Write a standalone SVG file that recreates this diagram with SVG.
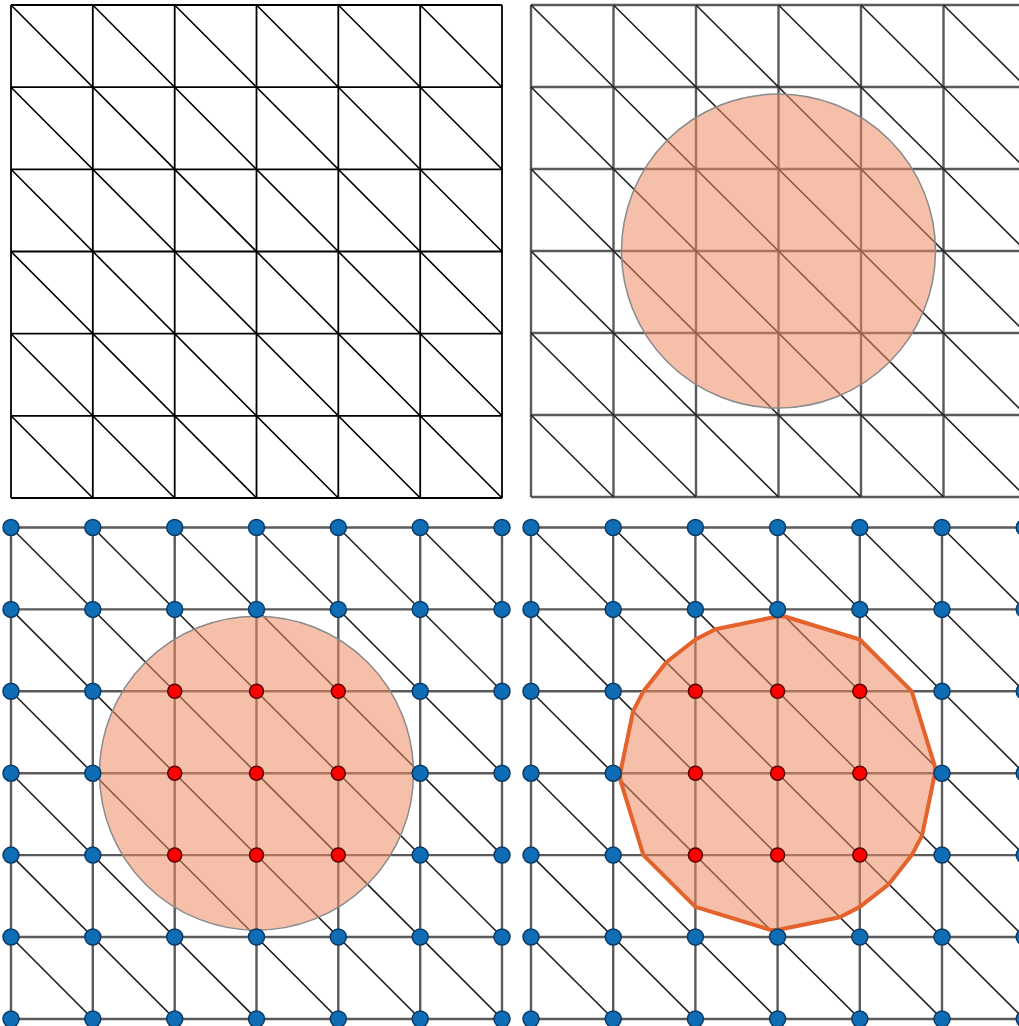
<svg xmlns="http://www.w3.org/2000/svg" width="1019" height="1026" viewBox="0 0 1019 1026">
<style>
.g1{stroke:#000;stroke-width:1.8;fill:none}
.d1{stroke:#000;stroke-width:1.6;fill:none}
.g{stroke:#5a5a5a;stroke-width:2.4;fill:none}
.d{stroke:#222;stroke-width:1.6;fill:none}
.disk{fill:#EF8A62;fill-opacity:0.55;stroke:#8a8a8a;stroke-width:1.5}
.poly{fill:#EF8A62;fill-opacity:0.55;stroke:#E4622C;stroke-width:4;stroke-linejoin:round}
.b{fill:#0F6DB5;stroke:#0B3A66;stroke-width:1.5}
.r{fill:#FF0000;stroke:#5a0000;stroke-width:1.5}
</style>
<rect width="1019" height="1026" fill="#fff"/>

<g id="panel1">
<path class="g1" d="M11 5H502M11 87.2H502M11 169.3H502M11 251.5H502M11 333.7H502M11 415.8H502M11 498H502M11 5V498M92.8 5V498M174.7 5V498M256.5 5V498M338.3 5V498M420.2 5V498M502 5V498"/>
<path class="d1" d="M11 5L502 498M11 87.2L420.2 498M11 169.3L338.3 498M11 251.5L256.5 498M11 333.7L174.7 498M11 415.8L92.8 498M92.8 5L502 415.8M174.7 5L502 333.7M256.5 5L502 251.5M338.3 5L502 169.3M420.2 5L502 87.2"/>
</g>

<g id="panel2">
<path class="g" d="M531 5H1026M531 87H1026M531 169H1026M531 251H1026M531 333H1026M531 415H1026M531 497H1026M531 5V497M613.5 5V497M696 5V497M778.5 5V497M861 5V497M943.5 5V497M1026 5V497"/>
<path class="d" d="M531 5L1026 497M531 87L943.5 497M531 169L861 497M531 251L778.5 497M531 333L696 497M531 415L613.5 497M613.5 5L1026 415M696 5L1026 333M778.5 5L1026 251M861 5L1026 169M943.5 5L1026 87"/>
<circle id="disk2" class="disk" cx="778.5" cy="251" r="157"/>
</g>

<g id="panel3">
<path class="g" d="M11 527.5H502M11 609.4H502M11 691.3H502M11 773.2H502M11 855.1H502M11 937H502M11 1019H502M11 527.5V1019M92.8 527.5V1019M174.7 527.5V1019M256.5 527.5V1019M338.3 527.5V1019M420.2 527.5V1019M502 527.5V1019"/>
<path class="d" d="M11 527.5L502 1019M11 609.4L420.2 1019M11 691.3L338.3 1019M11 773.2L256.5 1019M11 855.1L174.7 1019M11 937L92.8 1019M92.8 527.5L502 937M174.7 527.5L502 855.1M256.5 527.5L502 773.2M338.3 527.5L502 691.3M420.2 527.5L502 609.4"/>
<circle id="disk3" class="disk" cx="256.5" cy="773.2" r="157"/>
<g id="nodes3">
<circle class="b" r="8" cx="11" cy="527.5"/><circle class="b" r="8" cx="92.8" cy="527.5"/><circle class="b" r="8" cx="174.7" cy="527.5"/><circle class="b" r="8" cx="256.5" cy="527.5"/><circle class="b" r="8" cx="338.3" cy="527.5"/><circle class="b" r="8" cx="420.2" cy="527.5"/><circle class="b" r="8" cx="502" cy="527.5"/>
<circle class="b" r="8" cx="11" cy="609.4"/><circle class="b" r="8" cx="92.8" cy="609.4"/><circle class="b" r="8" cx="174.7" cy="609.4"/><circle class="b" r="8" cx="256.5" cy="609.4"/><circle class="b" r="8" cx="338.3" cy="609.4"/><circle class="b" r="8" cx="420.2" cy="609.4"/><circle class="b" r="8" cx="502" cy="609.4"/>
<circle class="b" r="8" cx="11" cy="691.3"/><circle class="b" r="8" cx="92.8" cy="691.3"/><circle class="r" r="7" cx="174.7" cy="691.3"/><circle class="r" r="7" cx="256.5" cy="691.3"/><circle class="r" r="7" cx="338.3" cy="691.3"/><circle class="b" r="8" cx="420.2" cy="691.3"/><circle class="b" r="8" cx="502" cy="691.3"/>
<circle class="b" r="8" cx="11" cy="773.2"/><circle class="b" r="8" cx="92.8" cy="773.2"/><circle class="r" r="7" cx="174.7" cy="773.2"/><circle class="r" r="7" cx="256.5" cy="773.2"/><circle class="r" r="7" cx="338.3" cy="773.2"/><circle class="b" r="8" cx="420.2" cy="773.2"/><circle class="b" r="8" cx="502" cy="773.2"/>
<circle class="b" r="8" cx="11" cy="855.1"/><circle class="b" r="8" cx="92.8" cy="855.1"/><circle class="r" r="7" cx="174.7" cy="855.1"/><circle class="r" r="7" cx="256.5" cy="855.1"/><circle class="r" r="7" cx="338.3" cy="855.1"/><circle class="b" r="8" cx="420.2" cy="855.1"/><circle class="b" r="8" cx="502" cy="855.1"/>
<circle class="b" r="8" cx="11" cy="937"/><circle class="b" r="8" cx="92.8" cy="937"/><circle class="b" r="8" cx="174.7" cy="937"/><circle class="b" r="8" cx="256.5" cy="937"/><circle class="b" r="8" cx="338.3" cy="937"/><circle class="b" r="8" cx="420.2" cy="937"/><circle class="b" r="8" cx="502" cy="937"/>
<circle class="b" r="8" cx="11" cy="1019"/><circle class="b" r="8" cx="92.8" cy="1019"/><circle class="b" r="8" cx="174.7" cy="1019"/><circle class="b" r="8" cx="256.5" cy="1019"/><circle class="b" r="8" cx="338.3" cy="1019"/><circle class="b" r="8" cx="420.2" cy="1019"/><circle class="b" r="8" cx="502" cy="1019"/>
</g>
</g>

<g id="panel4">
<path class="g" d="M531 527.5H1024.2M531 609.4H1024.2M531 691.3H1024.2M531 773.2H1024.2M531 855.1H1024.2M531 937H1024.2M531 1019H1024.2M531 527.5V1019M613.2 527.5V1019M695.4 527.5V1019M777.6 527.5V1019M859.8 527.5V1019M942 527.5V1019M1024.2 527.5V1019"/>
<path class="d" d="M531 527.5L1024.2 1019M531 609.4L942 1019M531 691.3L859.8 1019M531 773.2L777.6 1019M531 855.1L695.4 1019M531 937L613.2 1019M613.2 527.5L1024.2 937M695.4 527.5L1024.2 855.1M777.6 527.5L1024.2 773.2M859.8 527.5L1024.2 691.3M942 527.5L1024.2 609.4"/>
<polygon id="cutcell" class="poly" points="777.6,616.4 784.8,616.5 859.8,639.5 911.8,691.3 934.8,766.1 935,773.2 922.1,835.3 911.8,855.1 888.9,884.1 859.8,906.9 839.9,917.2 777.6,930 770.4,929.9 695.4,906.9 643.4,855.1 620.4,780.3 620.2,773.2 633.1,711.1 643.4,691.3 666.3,662.3 695.4,639.5 715.3,629.2"/>
<g id="nodes4">
<circle class="b" r="8" cx="531" cy="527.5"/><circle class="b" r="8" cx="613.2" cy="527.5"/><circle class="b" r="8" cx="695.4" cy="527.5"/><circle class="b" r="8" cx="777.6" cy="527.5"/><circle class="b" r="8" cx="859.8" cy="527.5"/><circle class="b" r="8" cx="942" cy="527.5"/><circle class="b" r="8" cx="1024.2" cy="527.5"/>
<circle class="b" r="8" cx="531" cy="609.4"/><circle class="b" r="8" cx="613.2" cy="609.4"/><circle class="b" r="8" cx="695.4" cy="609.4"/><circle class="b" r="8" cx="777.6" cy="609.4"/><circle class="b" r="8" cx="859.8" cy="609.4"/><circle class="b" r="8" cx="942" cy="609.4"/><circle class="b" r="8" cx="1024.2" cy="609.4"/>
<circle class="b" r="8" cx="531" cy="691.3"/><circle class="b" r="8" cx="613.2" cy="691.3"/><circle class="r" r="7" cx="695.4" cy="691.3"/><circle class="r" r="7" cx="777.6" cy="691.3"/><circle class="r" r="7" cx="859.8" cy="691.3"/><circle class="b" r="8" cx="942" cy="691.3"/><circle class="b" r="8" cx="1024.2" cy="691.3"/>
<circle class="b" r="8" cx="531" cy="773.2"/><circle class="b" r="8" cx="613.2" cy="773.2"/><circle class="r" r="7" cx="695.4" cy="773.2"/><circle class="r" r="7" cx="777.6" cy="773.2"/><circle class="r" r="7" cx="859.8" cy="773.2"/><circle class="b" r="8" cx="942" cy="773.2"/><circle class="b" r="8" cx="1024.2" cy="773.2"/>
<circle class="b" r="8" cx="531" cy="855.1"/><circle class="b" r="8" cx="613.2" cy="855.1"/><circle class="r" r="7" cx="695.4" cy="855.1"/><circle class="r" r="7" cx="777.6" cy="855.1"/><circle class="r" r="7" cx="859.8" cy="855.1"/><circle class="b" r="8" cx="942" cy="855.1"/><circle class="b" r="8" cx="1024.2" cy="855.1"/>
<circle class="b" r="8" cx="531" cy="937"/><circle class="b" r="8" cx="613.2" cy="937"/><circle class="b" r="8" cx="695.4" cy="937"/><circle class="b" r="8" cx="777.6" cy="937"/><circle class="b" r="8" cx="859.8" cy="937"/><circle class="b" r="8" cx="942" cy="937"/><circle class="b" r="8" cx="1024.2" cy="937"/>
<circle class="b" r="8" cx="531" cy="1019"/><circle class="b" r="8" cx="613.2" cy="1019"/><circle class="b" r="8" cx="695.4" cy="1019"/><circle class="b" r="8" cx="777.6" cy="1019"/><circle class="b" r="8" cx="859.8" cy="1019"/><circle class="b" r="8" cx="942" cy="1019"/><circle class="b" r="8" cx="1024.2" cy="1019"/>
</g>
</g>
</svg>
